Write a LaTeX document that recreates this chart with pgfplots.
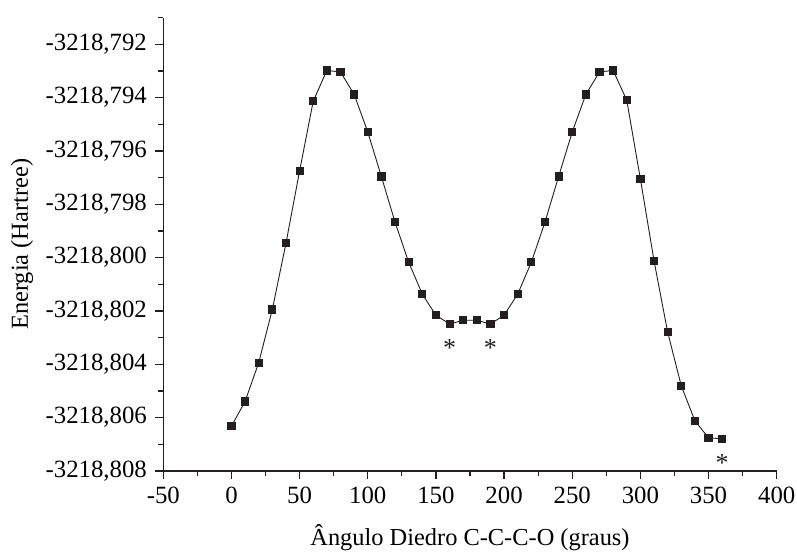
\documentclass[border=0pt]{standalone}
\usepackage{fontspec}
\setmainfont{Liberation Serif}
\usepackage{pgfplots}
\pgfplotsset{compat=1.18}
\usetikzlibrary{calc}
\definecolor{ink}{HTML}{231F20}

\begin{document}
\fontsize{12pt}{14pt}\selectfont
\begin{tikzpicture}
% y values are (E + 3218.800) * 1000, in mHartree
\begin{axis}[
    name=ax,
    scale only axis,
    width=306.7pt, height=226.7pt,
    xmin=-50, xmax=400,
    ymin=-8, ymax=9,
    axis lines=left,
    axis line style={-, ink, line width=0.6pt},
    tick align=outside,
    tick style={ink, line width=0.6pt},
    major tick length=4pt,
    minor tick length=2.5pt,
    xtick={-50,0,...,400},
    minor xtick={-25,25,...,375},
    ytick={-8,-6,...,8},
    minor ytick={-7,-5,...,9},
    yticklabels={{-3218,808},{-3218,806},{-3218,804},{-3218,802},{-3218,800},{-3218,798},{-3218,796},{-3218,794},{-3218,792}},
    /pgf/number format/assume math mode=true,
    ticklabel style={font=\fontsize{12.4pt}{14pt}\selectfont},
    label style={font=\fontsize{12.2pt}{14pt}\selectfont},
    xlabel={Ângulo Diedro C-C-C-O (graus)},
    ylabel={Energia (Hartree)},
    xlabel style={yshift=-2pt},
    ylabel style={yshift=-2pt},
    clip=false,
]
\addplot[ink, line width=0.45pt, mark=square*, mark size=1.8pt,
         mark options={fill=ink, draw=ink, solid}] coordinates {
    (0,-6.32) (10,-5.39) (20,-3.94) (30,-1.94) (40,0.54) (50,3.25)
    (60,5.87) (70,7.02) (80,6.96) (90,6.12) (100,4.71) (110,3.04)
    (120,1.33) (130,-0.17) (140,-1.37) (150,-2.16) (160,-2.49) (170,-2.35)
    (180,-2.35) (190,-2.49) (200,-2.16) (210,-1.37) (220,-0.17) (230,1.33)
    (240,3.04) (250,4.71) (260,6.12) (270,6.96) (280,7.02) (290,5.90)
    (300,2.95) (310,-0.12) (320,-2.79) (330,-4.81) (340,-6.12) (350,-6.76)
    (360,-6.79)
};
\node[ink, anchor=north, inner sep=0pt, font=\fontsize{13pt}{14pt}\selectfont] at (axis cs:160,-3.05) {*};
\node[ink, anchor=north, inner sep=0pt, font=\fontsize{13pt}{14pt}\selectfont] at (axis cs:190,-3.05) {*};
\node[ink, anchor=north, inner sep=0pt, font=\fontsize{13pt}{14pt}\selectfont] at (axis cs:360,-7.35) {*};
\end{axis}
\pgfresetboundingbox
\path[use as bounding box] ($(ax.south west)+(-81.65pt,-41.5pt)$) rectangle ($(ax.north east)+(10.15pt,8.8pt)$);
\end{tikzpicture}
\end{document}
